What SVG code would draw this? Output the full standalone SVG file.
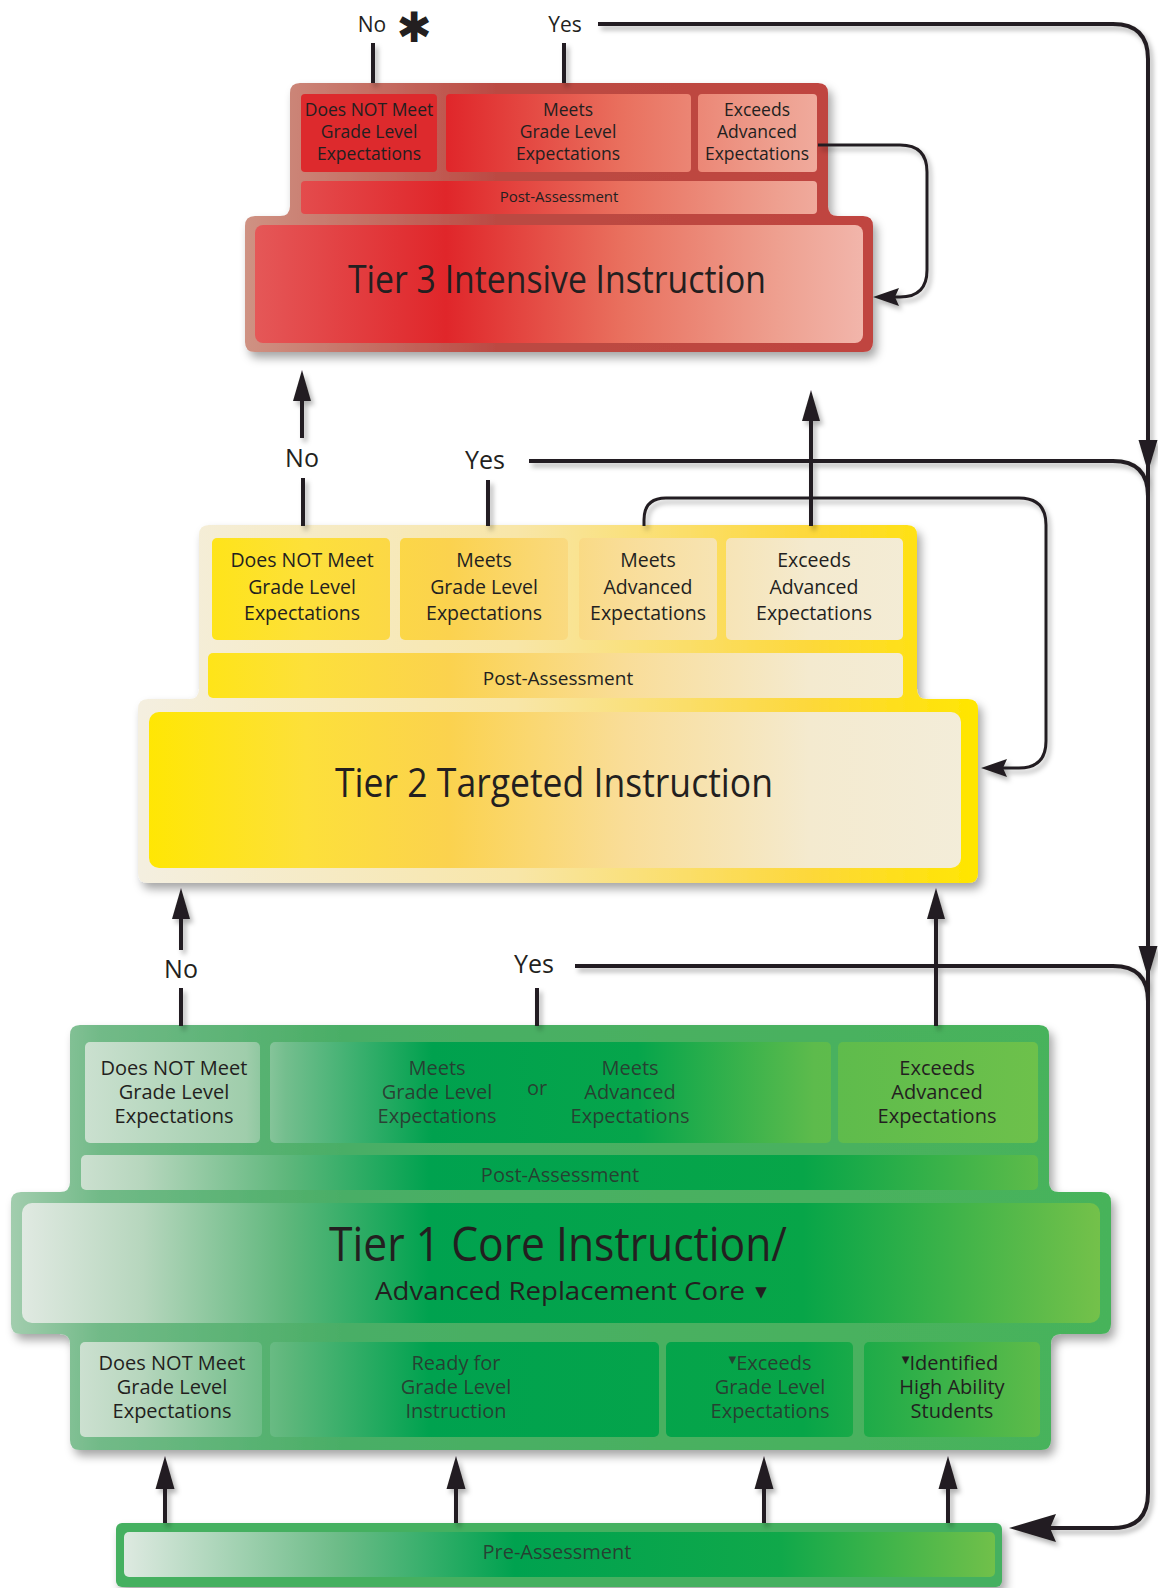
<svg xmlns="http://www.w3.org/2000/svg" width="1158" height="1588" viewBox="0 0 1158 1588">
<defs>
<style>
.t{font-family:'Open Sans','Liberation Sans',sans-serif;fill:#231f20;text-anchor:middle}
.s3{font-size:17.5px}
.s2{font-size:19.5px}
.s1{font-size:20px}
.lb{font-size:25px}
.lb3{font-size:21px}
.dim{fill:#2b332e;fill-opacity:.88}
.ln{fill:none;stroke:#231f20;stroke-width:4}
.lnt{fill:none;stroke:#231f20;stroke-width:3}
.ah{fill:#231f20}
</style>
<filter id="sh" x="-10%" y="-10%" width="125%" height="130%">
<feDropShadow dx="4" dy="6" stdDeviation="5" flood-color="#000" flood-opacity="0.35"/>
</filter>
<filter id="shl" x="-10%" y="-10%" width="125%" height="125%">
<feDropShadow dx="3" dy="4" stdDeviation="2.5" flood-color="#000" flood-opacity="0.3"/>
</filter>
<linearGradient id="f3" gradientUnits="userSpaceOnUse" x1="245" y1="0" x2="873" y2="0">
<stop offset="0" stop-color="#cf9283"/><stop offset="0.4" stop-color="#bb4a43"/><stop offset="1" stop-color="#c0443f"/>
</linearGradient>
<linearGradient id="g3" gradientUnits="userSpaceOnUse" x1="245" y1="0" x2="873" y2="0">
<stop offset="0" stop-color="#e55a5a"/><stop offset="0.32" stop-color="#e0262a"/><stop offset="0.6" stop-color="#e9705e"/><stop offset="0.85" stop-color="#eea090"/><stop offset="1" stop-color="#f2b8ae"/>
</linearGradient>
<linearGradient id="f2" gradientUnits="userSpaceOnUse" x1="138" y1="0" x2="978" y2="0">
<stop offset="0" stop-color="#f4efe0"/><stop offset="0.45" stop-color="#f8e6a8"/><stop offset="0.8" stop-color="#fdd83a"/><stop offset="1" stop-color="#ffe600"/>
</linearGradient>
<linearGradient id="g2" gradientUnits="userSpaceOnUse" x1="138" y1="0" x2="978" y2="0">
<stop offset="0" stop-color="#ffe700"/><stop offset="0.2" stop-color="#fde03a"/><stop offset="0.37" stop-color="#fbd24e"/><stop offset="0.58" stop-color="#f9dd98"/><stop offset="0.8" stop-color="#f4eacf"/><stop offset="1" stop-color="#f3edda"/>
</linearGradient>
<linearGradient id="f1" gradientUnits="userSpaceOnUse" x1="11" y1="0" x2="1111" y2="0">
<stop offset="0" stop-color="#a2cdae"/><stop offset="0.08" stop-color="#72ba88"/><stop offset="0.3" stop-color="#4aae66"/><stop offset="1" stop-color="#47b35a"/>
</linearGradient>
<linearGradient id="g1" gradientUnits="userSpaceOnUse" x1="11" y1="0" x2="1111" y2="0">
<stop offset="0" stop-color="#e4ebe5"/><stop offset="0.12" stop-color="#b6d6bd"/><stop offset="0.25" stop-color="#5fb77c"/><stop offset="0.38" stop-color="#00a24f"/><stop offset="0.72" stop-color="#07a548"/><stop offset="1" stop-color="#78c24a"/>
</linearGradient>
<linearGradient id="g1u" gradientUnits="userSpaceOnUse" x1="70" y1="0" x2="1049" y2="0">
<stop offset="0" stop-color="#cfe2d3"/><stop offset="0.18" stop-color="#9fcdab"/><stop offset="0.22" stop-color="#74be8e"/><stop offset="0.37" stop-color="#00a14e"/><stop offset="0.58" stop-color="#06a54b"/><stop offset="0.76" stop-color="#5dbb4c"/><stop offset="1" stop-color="#6ec14b"/>
</linearGradient>
<linearGradient id="gp" gradientUnits="userSpaceOnUse" x1="116" y1="0" x2="1002" y2="0">
<stop offset="0" stop-color="#e2ebe4"/><stop offset="0.25" stop-color="#6dbc88"/><stop offset="0.45" stop-color="#00a24f"/><stop offset="0.75" stop-color="#10a84a"/><stop offset="1" stop-color="#74c14a"/>
</linearGradient>
</defs>
<rect width="1158" height="1588" fill="#ffffff"/>

<g id="tier3">
<path filter="url(#sh)" fill="url(#f3)" d="M300,83 H818 Q828,83 828,93 V206 Q828,216 838,216 H863 Q873,216 873,226 V342 Q873,352 863,352 H255 Q245,352 245,342 V226 Q245,216 255,216 H280 Q290,216 290,206 V93 Q290,83 300,83 Z"/>
<g id="t3-notmeet"><rect x="301" y="94" width="136" height="78" rx="4" fill="#dd2a2d"/>
<text class="t s3"><tspan x="369" y="116">Does NOT Meet</tspan><tspan x="369" y="138">Grade Level</tspan><tspan x="369" y="160">Expectations</tspan></text></g>
<g id="t3-meets"><rect x="446" y="94" width="245" height="78" rx="4" fill="url(#g3)"/>
<text class="t s3"><tspan x="568" y="116">Meets</tspan><tspan x="568" y="138">Grade Level</tspan><tspan x="568" y="160">Expectations</tspan></text></g>
<g id="t3-exceeds"><rect x="698" y="94" width="119" height="78" rx="4" fill="url(#g3)"/>
<text class="t s3"><tspan x="757" y="116">Exceeds</tspan><tspan x="757" y="138">Advanced</tspan><tspan x="757" y="160">Expectations</tspan></text></g>
<g id="t3-post"><rect x="301" y="181" width="516" height="33" rx="4" fill="url(#g3)"/>
<text class="t" font-size="15" x="559" y="202">Post-Assessment</text></g>
<g id="t3-main"><rect x="255" y="225" width="608" height="118" rx="8" fill="url(#g3)"/>
<text class="t" font-size="38" x="557" y="293" textLength="418" lengthAdjust="spacingAndGlyphs">Tier 3 Intensive Instruction</text></g>
</g>

<g id="tier2">
<path filter="url(#sh)" fill="url(#f2)" d="M209,525 H907 Q917,525 917,535 V689 Q917,699 927,699 H968 Q978,699 978,709 V873 Q978,883 968,883 H148 Q138,883 138,873 V709 Q138,699 148,699 H189 Q199,699 199,689 V535 Q199,525 209,525 Z"/>
<g id="t2-notmeet"><rect x="212" y="538" width="178" height="102" rx="5" fill="url(#g2)"/>
<text class="t s2"><tspan x="302" y="567">Does NOT Meet</tspan><tspan x="302" y="594">Grade Level</tspan><tspan x="302" y="620">Expectations</tspan></text></g>
<g id="t2-meets"><rect x="400" y="538" width="168" height="102" rx="5" fill="url(#g2)"/>
<text class="t s2"><tspan x="484" y="567">Meets</tspan><tspan x="484" y="594">Grade Level</tspan><tspan x="484" y="620">Expectations</tspan></text></g>
<g id="t2-meetsadv"><rect x="579" y="538" width="138" height="102" rx="5" fill="url(#g2)"/>
<text class="t s2"><tspan x="648" y="567">Meets</tspan><tspan x="648" y="594">Advanced</tspan><tspan x="648" y="620">Expectations</tspan></text></g>
<g id="t2-exceeds"><rect x="726" y="538" width="177" height="102" rx="5" fill="url(#g2)"/>
<text class="t s2"><tspan x="814" y="567">Exceeds</tspan><tspan x="814" y="594">Advanced</tspan><tspan x="814" y="620">Expectations</tspan></text></g>
<g id="t2-post"><rect x="208" y="653" width="695" height="45" rx="5" fill="url(#g2)"/>
<text class="t" font-size="19" x="558" y="685">Post-Assessment</text></g>
<g id="t2-main"><rect x="149" y="712" width="812" height="156" rx="10" fill="url(#g2)"/>
<text class="t" font-size="40" x="554" y="797" textLength="438" lengthAdjust="spacingAndGlyphs">Tier 2 Targeted Instruction</text></g>
</g>

<g id="tier1">
<path filter="url(#sh)" fill="url(#f1)" d="M80,1025 H1039 Q1049,1025 1049,1035 V1182 Q1049,1192 1059,1192 H1101 Q1111,1192 1111,1202 V1324 Q1111,1334 1101,1334 H1061 Q1051,1334 1051,1344 V1440 Q1051,1450 1041,1450 H80 Q70,1450 70,1440 V1344 Q70,1334 60,1334 H21 Q11,1334 11,1324 V1202 Q11,1192 21,1192 H60 Q70,1192 70,1182 V1035 Q70,1025 80,1025 Z"/>
<g id="t1-notmeet"><rect x="85" y="1042" width="175" height="101" rx="5" fill="url(#g1u)"/>
<text class="t s1"><tspan x="174" y="1075">Does NOT Meet</tspan><tspan x="174" y="1099">Grade Level</tspan><tspan x="174" y="1123">Expectations</tspan></text></g>
<g id="t1-meets"><rect x="270" y="1042" width="561" height="101" rx="5" fill="url(#g1u)"/>
<text class="t s1 dim"><tspan x="437" y="1075">Meets</tspan><tspan x="437" y="1099">Grade Level</tspan><tspan x="437" y="1123">Expectations</tspan></text>
<text class="t s1 dim" x="537" y="1095">or</text>
<text class="t s1 dim"><tspan x="630" y="1075">Meets</tspan><tspan x="630" y="1099">Advanced</tspan><tspan x="630" y="1123">Expectations</tspan></text></g>
<g id="t1-exceeds"><rect x="838" y="1042" width="200" height="101" rx="5" fill="url(#g1u)"/>
<text class="t s1"><tspan x="937" y="1075">Exceeds</tspan><tspan x="937" y="1099">Advanced</tspan><tspan x="937" y="1123">Expectations</tspan></text></g>
<g id="t1-post"><rect x="81" y="1155" width="957" height="35" rx="5" fill="url(#g1)"/>
<text class="t s1 dim" x="560" y="1182">Post-Assessment</text></g>
<g id="t1-main"><rect x="22" y="1203" width="1078" height="120" rx="10" fill="url(#g1)"/>
<text class="t" font-size="48" x="558" y="1261" textLength="458" lengthAdjust="spacingAndGlyphs">Tier 1 Core Instruction/</text>
<text class="t" font-size="26" x="560" y="1300" textLength="370" lengthAdjust="spacingAndGlyphs">Advanced Replacement Core</text>
<text class="t" font-size="15" x="761" y="1297" style="font-family:'DejaVu Sans',sans-serif">▼</text></g>
<g id="t1-pre-notmeet"><rect x="80" y="1342" width="182" height="95" rx="5" fill="url(#g1)"/>
<text class="t s1"><tspan x="172" y="1370">Does NOT Meet</tspan><tspan x="172" y="1394">Grade Level</tspan><tspan x="172" y="1418">Expectations</tspan></text></g>
<g id="t1-ready"><rect x="270" y="1342" width="389" height="95" rx="5" fill="url(#g1)"/>
<text class="t s1 dim"><tspan x="456" y="1370">Ready for</tspan><tspan x="456" y="1394">Grade Level</tspan><tspan x="456" y="1418">Instruction</tspan></text></g>
<g id="t1-pre-exceeds"><rect x="666" y="1342" width="187" height="95" rx="5" fill="url(#g1)"/>
<text class="t s1 dim"><tspan x="770" y="1370"><tspan font-size="10" dy="-7" style="font-family:'DejaVu Sans',sans-serif">▼</tspan><tspan dy="7">Exceeds</tspan></tspan><tspan x="770" y="1394">Grade Level</tspan><tspan x="770" y="1418">Expectations</tspan></text></g>
<g id="t1-highability"><rect x="864" y="1342" width="176" height="95" rx="5" fill="url(#g1)"/>
<text class="t s1"><tspan x="950" y="1370"><tspan font-size="10" dy="-7" style="font-family:'DejaVu Sans',sans-serif">▼</tspan><tspan dy="7">Identified</tspan></tspan><tspan x="952" y="1394">High Ability</tspan><tspan x="952" y="1418">Students</tspan></text></g>
</g>

<g id="pre-assessment">
<rect filter="url(#sh)" x="116" y="1523" width="886" height="64" rx="6" fill="#45b060"/>
<rect x="124" y="1532" width="871" height="45" rx="5" fill="url(#gp)"/>
<text class="t s1 dim" x="557" y="1559">Pre-Assessment</text>
</g>

<g id="labels">
<text class="t lb3" x="372" y="32">No</text>
<text class="t" font-size="42" x="414" y="42" style="font-family:'DejaVu Sans',sans-serif;font-weight:bold">✱</text>
<text class="t lb3" x="565" y="32">Yes</text>
<text class="t lb" x="302" y="467">No</text>
<text class="t lb" x="485" y="469">Yes</text>
<text class="t lb" x="181" y="978">No</text>
<text class="t lb" x="534" y="973">Yes</text>
</g>

<g id="connectors" filter="url(#shl)">
<path class="ln" d="M373,43 V83"/>
<path class="ln" d="M564,43 V83"/>
<path class="ln" d="M598,24 H1113 Q1148,24 1148,59 V1493 Q1148,1528 1113,1528 H1050"/>
<polygon class="ah" points="1148,472 1138.5,440 1157.5,440"/>
<polygon class="ah" points="1148,978 1138.5,946 1157.5,946"/>
<polygon class="ah" points="1009,1528 1056,1514 1050,1528 1056,1542"/>
<path class="ln" d="M529,461 H1113 Q1148,461 1148,496"/>
<path class="ln" d="M575,966 H1113 Q1148,966 1148,1001"/>
<path class="lnt" d="M818,145 H900 Q927,145 927,172 V270 Q927,297 900,297 H894"/>
<polygon class="ah" points="873,297 899,288 895,297 899,306"/>
<path class="lnt" d="M644,526 V520 Q644,498 666,498 H1019 Q1046,498 1046,525 V741 Q1046,768 1019,768 H1002"/>
<polygon class="ah" points="981,768 1007,759 1003,768 1007,777"/>
<path class="ln" d="M303,478 V526"/>
<path class="ln" d="M488,480 V526"/>
<path class="ln" d="M302,438 V396"/>
<polygon class="ah" points="302,370 293,401 311,401"/>
<path class="ln" d="M811,526 V416"/>
<polygon class="ah" points="811,390 802,421 820,421"/>
<path class="ln" d="M181,988 V1026"/>
<path class="ln" d="M181,950 V914"/>
<polygon class="ah" points="181,888 172,919 190,919"/>
<path class="ln" d="M537,988 V1026"/>
<path class="ln" d="M936,1026 V914"/>
<polygon class="ah" points="936,888 927,919 945,919"/>
<path class="ln" d="M165,1523 V1484"/>
<polygon class="ah" points="165,1456 155.5,1489 174.5,1489"/>
<path class="ln" d="M456,1523 V1484"/>
<polygon class="ah" points="456,1456 446.5,1489 465.5,1489"/>
<path class="ln" d="M764,1523 V1484"/>
<polygon class="ah" points="764,1456 754.5,1489 773.5,1489"/>
<path class="ln" d="M948,1523 V1484"/>
<polygon class="ah" points="948,1456 938.5,1489 957.5,1489"/>
</g>
</svg>
